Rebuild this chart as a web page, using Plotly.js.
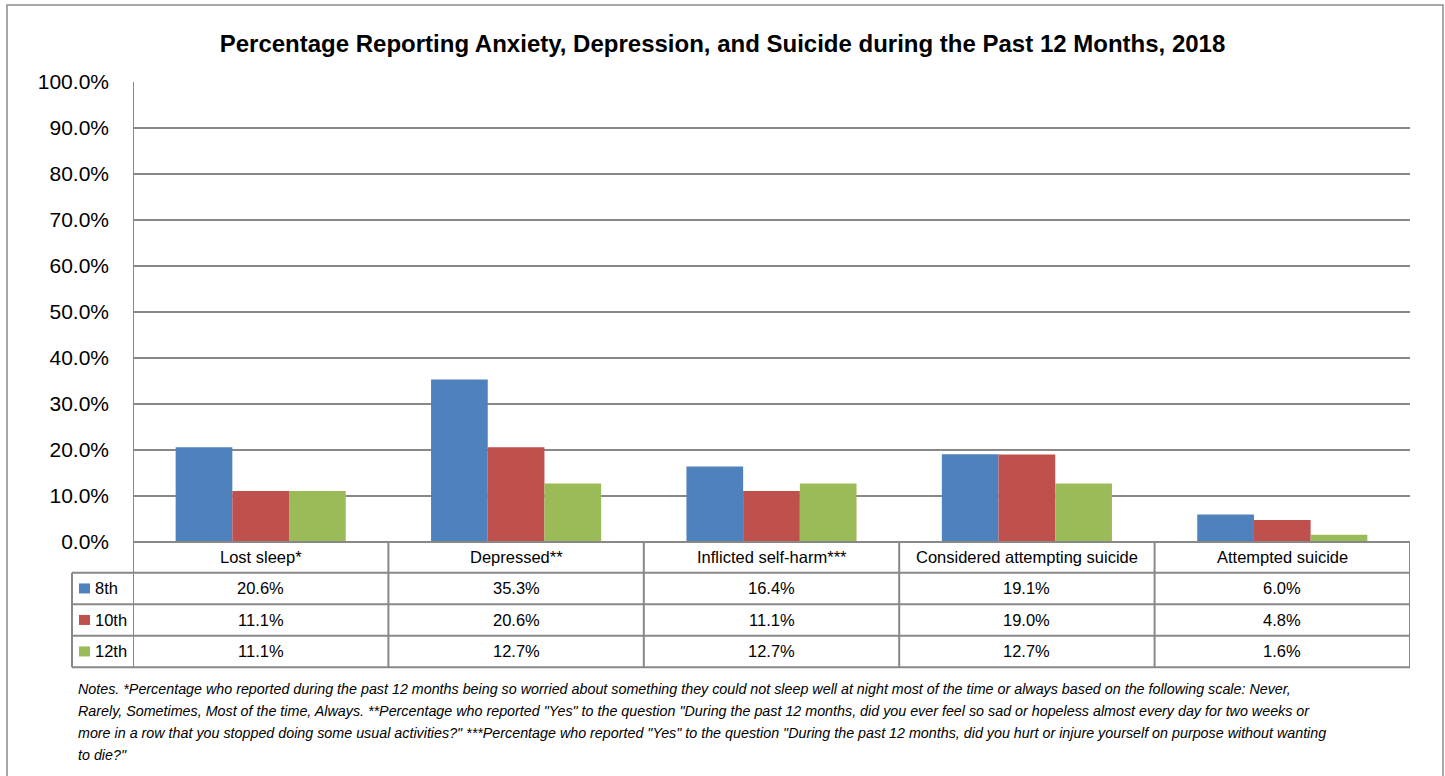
<!DOCTYPE html>
<html>
<head>
<meta charset="utf-8">
<script src="https://cdn.plot.ly/plotly-3.0.1.min.js"></script>
<style>html,body{margin:0;padding:0;background:#fff;}#chart{width:1445px;height:776px;}</style>
</head>
<body>
<div id="chart"></div>
<script>
// ---- data ----
var categories = ["Lost sleep*", "Depressed**", "Inflicted self-harm***", "Considered attempting suicide", "Attempted suicide"];
var seriesNames = ["8th", "10th", "12th"];
var grade8 = [20.6, 35.3, 16.4, 19.1, 6.0];
var grade10 = [11.1, 20.6, 11.1, 19.0, 4.8];
var grade12 = [11.1, 12.7, 12.7, 12.7, 1.6];
var yTickValues = [0, 10, 20, 30, 40, 50, 60, 70, 80, 90, 100];
var titleText = "Percentage Reporting Anxiety, Depression, and Suicide during the Past 12 Months, 2018";
var notesLines = [
  "Notes. *Percentage who reported during the past 12 months being so worried about something they could not sleep well at night most of the time or always based on the following scale: Never,",
  "Rarely, Sometimes, Most of the time, Always. **Percentage who reported \"Yes\" to the question \"During the past 12 months, did you ever feel so sad or hopeless almost every day for two weeks or",
  "more in a row that you stopped doing some usual activities?\" ***Percentage who reported \"Yes\" to the question \"During the past 12 months, did you hurt or injure yourself on purpose without wanting",
  "to die?\""
];

// ---- styling ----
var colors = ["#4F81BD", "#C0504D", "#9BBB59"];
var W = 1445, H = 776;
var FONT = "'Liberation Sans', Arial, sans-serif";
var LINE = "#888888";
function px(p) { return p / W; }
function py(p) { return 1 - p / H; }

var PLOT_L = 133, PLOT_R = 1410, PLOT_T = 82, PLOT_B = 542;
var ROWS = [542, 572.7, 604.2, 635.7, 667.2];
var LEG_L = 72;

var series = [grade8, grade10, grade12];
var traces = series.map(function (vals, i) {
  return {
    type: "bar",
    name: seriesNames[i],
    x: categories,
    y: vals,
    marker: { color: colors[i] },
    hovertemplate: "%{x}<br>" + seriesNames[i] + ": %{y:.1f}%<extra></extra>"
  };
});

var shapes = [];
var annotations = [];

// outer frame
shapes.push({ type: "rect", xref: "paper", yref: "paper", x0: px(7), x1: px(1443), y0: -0.1, y1: py(5),
  line: { color: "#8c8c8c", width: 1.5 }, fillcolor: "rgba(0,0,0,0)" });

// horizontal table lines
shapes.push({ type: "line", xref: "x", yref: "paper", x0: -0.5, x1: categories.length - 0.5, y0: py(ROWS[0]), y1: py(ROWS[0]),
  line: { color: LINE, width: 2 } });
for (var r = 1; r < ROWS.length; r++) {
  shapes.push({ type: "line", xref: "paper", yref: "paper", x0: px(LEG_L), x1: px(PLOT_R), y0: py(ROWS[r]), y1: py(ROWS[r]),
    line: { color: LINE, width: 2 } });
}
// vertical table lines
shapes.push({ type: "line", xref: "paper", yref: "paper", x0: px(LEG_L), x1: px(LEG_L), y0: py(ROWS[1]), y1: py(ROWS[4]),
  line: { color: LINE, width: 2 } });
for (var c = 0; c <= categories.length; c++) {
  shapes.push({ type: "line", xref: "x", yref: "paper", x0: c - 0.5, x1: c - 0.5,
    y0: py(c === 0 ? PLOT_T : ROWS[0]), y1: py(ROWS[4]), line: { color: LINE, width: 2 } });
}

// category header
categories.forEach(function (cat, i) {
  annotations.push({ xref: "x", yref: "paper", x: i, y: py((ROWS[0] + ROWS[1]) / 2), text: cat, showarrow: false,
    xanchor: "center", yanchor: "middle", font: { family: FONT, size: 16.5, color: "#000" } });
});
// data rows + legend keys
series.forEach(function (vals, s) {
  var yc = (ROWS[s + 1] + ROWS[s + 2]) / 2;
  shapes.push({ type: "rect", xref: "paper", yref: "paper", x0: px(79), x1: px(90), y0: py(yc - 5), y1: py(yc + 5),
    fillcolor: colors[s], line: { width: 0 } });
  annotations.push({ xref: "paper", yref: "paper", x: px(93), y: py(yc), text: seriesNames[s], showarrow: false,
    xanchor: "left", yanchor: "middle", font: { family: FONT, size: 16.5, color: "#000" } });
  vals.forEach(function (v, i) {
    annotations.push({ xref: "x", yref: "paper", x: i, y: py(yc), text: v.toFixed(1) + "%", showarrow: false,
      xanchor: "center", yanchor: "middle", font: { family: FONT, size: 16.5, color: "#000" } });
  });
});

// notes
notesLines.forEach(function (t, i) {
  annotations.push({ xref: "paper", yref: "paper", x: px(76), y: py(689 + i * 22), text: "<i>" + t + "</i>", showarrow: false,
    xanchor: "left", yanchor: "middle", align: "left", font: { family: FONT, size: 14.3, color: "#000" } });
});

var layout = {
  width: W, height: H,
  margin: { l: 0, r: 0, t: 0, b: 0 },
  paper_bgcolor: "#fff", plot_bgcolor: "#fff",
  showlegend: false,
  barmode: "group",
  bargap: 0.334,
  bargroupgap: 0,
  title: { text: "<b>" + titleText + "</b>", x: 0.5, xanchor: "center", y: py(44), yanchor: "middle",
    font: { family: FONT, size: 24, color: "#000" } },
  xaxis: { domain: [px(PLOT_L), px(PLOT_R)], range: [-0.5, categories.length - 0.5], showticklabels: false,
    showgrid: false, zeroline: false, showline: false, ticks: "", fixedrange: true },
  yaxis: { domain: [py(PLOT_B), py(PLOT_T)], range: [0, 100], tickmode: "array", tickvals: yTickValues,
    ticktext: yTickValues.map(function (v) { return v.toFixed(1) + "%"; }),
    showgrid: true, gridcolor: LINE, gridwidth: 1.5,
    zeroline: false, showline: false, ticks: "", ticklabelstandoff: 23,
    tickfont: { family: FONT, size: 21, color: "#000" }, fixedrange: true },
  shapes: shapes,
  annotations: annotations
};

Plotly.newPlot("chart", traces, layout, { displayModeBar: false });
</script>
</body>
</html>
